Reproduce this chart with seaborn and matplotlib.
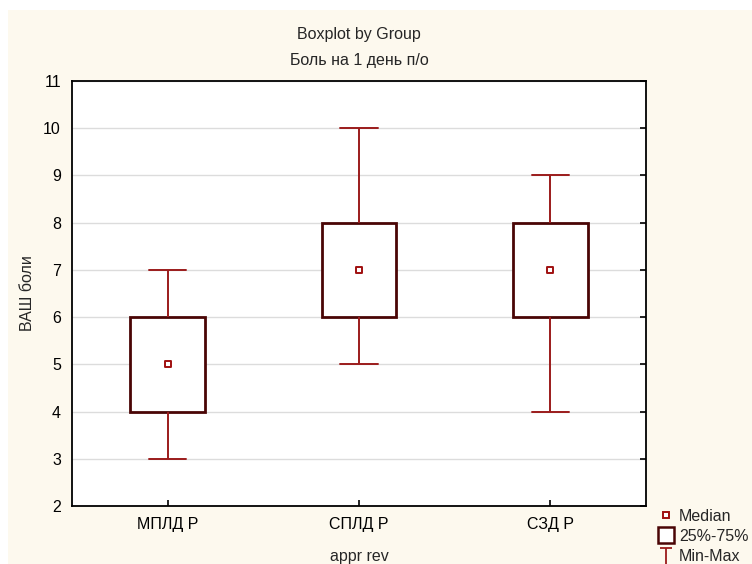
import matplotlib
matplotlib.use('Agg')
import matplotlib.pyplot as plt
import seaborn as sns
import pandas as pd
import numpy as np
from matplotlib.path import Path
from matplotlib.lines import Line2D
from matplotlib.patches import Rectangle

groups = ['МПЛД Р', 'СПЛД Р', 'СЗД Р']
mins = [3, 5, 4]
q1 = [4, 6, 6]
medians = [5, 7, 7]
q3 = [6, 8, 8]
maxs = [7, 10, 9]
yticks = list(range(2, 12))

rows = []
for g, a, b, c, d, e in zip(groups, mins, q1, medians, q3, maxs):
    for v in (a, b, c, d, e):
        rows.append((g, v))
df = pd.DataFrame(rows, columns=['appr rev', 'ВАШ боли'])

sns.set_theme(style='white')
plt.rcParams['font.family'] = ['Liberation Sans', 'DejaVu Sans']

W, H = 752, 564
FS = 11.5
fig = plt.figure(figsize=(W / 100, H / 100), dpi=100, facecolor='white')
cream = '#fdf9ee'
fig.patches.append(Rectangle((8 / W, 0), 1 - 8 / W, 1 - 10 / H, transform=fig.transFigure,
                             facecolor=cream, edgecolor='none', zorder=-10))

ax = fig.add_axes([72 / W, 1 - 506 / H, (646 - 72) / W, (506 - 81) / H])
ax.set_facecolor('white')

box_edge = '#4a0505'
whisk = '#9b1b1b'
sns.boxplot(data=df, x='appr rev', y='ВАШ боли', order=groups, ax=ax, width=0.39,
            whis=np.inf, showfliers=False, color='white', linecolor=box_edge, linewidth=2.0,
            whiskerprops=dict(color=whisk, linewidth=1.4),
            capprops=dict(color=whisk, linewidth=1.4),
            medianprops=dict(visible=False), zorder=3)
sns.stripplot(x=groups, y=medians, order=groups, ax=ax, jitter=False, marker='s', s=5,
              color='white', edgecolor='#a01010', linewidth=1.4, zorder=5)

ax.set_xlim(-0.5, 2.5)
ax.set_ylim(2, 11)
ax.set_yticks(yticks)
ax.set_yticklabels([str(t) for t in yticks], fontsize=FS)
ax.set_xticks(range(len(groups)))
ax.set_xticklabels(groups, fontsize=FS)
ax.yaxis.grid(True, color='#dcdcdc', linewidth=1)
ax.xaxis.grid(False)
ax.set_axisbelow(True)
ax.tick_params(axis='y', left=False, right=True, direction='in', length=4, width=1.2,
               color='black', pad=8, labelcolor='black')
ax.tick_params(axis='x', bottom=True, direction='in', length=4, width=1.2,
               color='black', pad=8, labelcolor='black')
for s in ax.spines.values():
    s.set_color('black')
    s.set_linewidth(1.3)
ax.set_xlabel('')
ax.set_ylabel('')

cx = (72 + 646) / 2 / W
fig.text(cx, 1 - 35 / H, 'Boxplot by Group', ha='center', va='center', fontsize=FS)
fig.text(cx, 1 - 60 / H, 'Боль на 1 день п/о', ha='center', va='center', fontsize=FS)
fig.text(28 / W, 1 - 293 / H, 'ВАШ боли', rotation=90, ha='center', va='center', fontsize=FS)
fig.text(cx, 1 - 556 / H, 'appr rev', ha='center', va='center', fontsize=FS)

tee = Path([(-0.8, 1), (0.8, 1), (0, 1), (0, -1.4)],
           [Path.MOVETO, Path.LINETO, Path.MOVETO, Path.LINETO])
handles = [
    Line2D([], [], linestyle='none', marker='s', markersize=5, markerfacecolor='white',
           markeredgecolor='#a01010', markeredgewidth=1.4),
    Line2D([], [], linestyle='none', marker='s', markersize=12, markerfacecolor='white',
           markeredgecolor=box_edge, markeredgewidth=1.8),
    Line2D([], [], linestyle='none', marker=tee, markersize=14, markerfacecolor='none',
           markeredgecolor=whisk, markeredgewidth=1.3),
]
fig.legend(handles, ['Median', '25%-75%', 'Min-Max'], loc='lower left',
           bbox_to_anchor=(647 / W, -11 / H), frameon=False, fontsize=FS,
           handlelength=1.0, handletextpad=0.3, labelspacing=0.32, borderpad=0.2)

fig.savefig('out.png', dpi=100, facecolor=fig.get_facecolor())
